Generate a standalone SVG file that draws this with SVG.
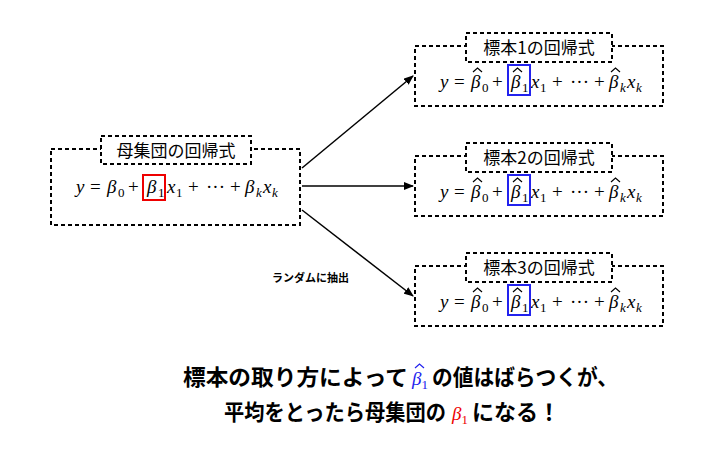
<svg xmlns="http://www.w3.org/2000/svg" width="713" height="453" viewBox="0 0 713 453">
<style>
.box{fill:#fff;stroke:#000;stroke-width:2;stroke-dasharray:4 3}
.lab{font-family:"Noto Sans CJK JP",sans-serif;font-size:17px}
.eq{font-family:"Liberation Serif",serif;font-size:19px;font-style:italic}
.rm{font-style:normal}
.sub{font-size:13px;font-style:normal}
.ksub{font-size:13px}
.big{font-family:"Noto Sans CJK JP",sans-serif;font-size:22px;font-weight:bold}
.hat{fill:none;stroke-width:1.2}
line{stroke:#000;stroke-width:1.5}
</style>
<defs>
<marker id="ah" markerWidth="10" markerHeight="8" refX="9" refY="4" orient="auto" markerUnits="userSpaceOnUse"><path d="M0,0 L10,4 L0,8 z"/></marker>
<g id="eqS">
<text class="eq" y="0"><tspan x="0">y</tspan><tspan x="14" class="rm">=</tspan><tspan x="31">β</tspan><tspan x="42" dy="4" class="sub">0</tspan><tspan x="52" dy="-4" class="rm">+</tspan><tspan x="71">β</tspan><tspan x="82" dy="4" class="sub">1</tspan><tspan x="91" dy="-4">x</tspan><tspan x="100" dy="4" class="sub">1</tspan><tspan x="112" dy="-4" class="rm">+</tspan><tspan x="130" class="rm">···</tspan><tspan x="154" class="rm">+</tspan><tspan x="169">β</tspan><tspan x="180" dy="4" class="ksub">k</tspan><tspan x="187" dy="-4">x</tspan><tspan x="196" dy="4" class="ksub">k</tspan></text>
</g>
<path id="hats" class="hat" stroke="#000" d="M33,-16 L37.5,-20 L42,-16 M73,-16 L77.5,-20 L82,-16 M171,-16 L175.5,-20 L180,-16"/>
</defs>
<g id="connectors">
<line x1="302" y1="168" x2="413" y2="76" marker-end="url(#ah)"/>
<line x1="302" y1="186" x2="413" y2="186" marker-end="url(#ah)"/>
<line x1="302" y1="210" x2="413" y2="296" marker-end="url(#ah)"/>
<text x="272" y="282" style="font-family:'Noto Sans CJK JP',sans-serif;font-size:11px;font-weight:bold">ランダムに抽出</text>
</g>
<g id="population">
<rect class="box" x="51" y="149" width="249" height="76"/>
<rect class="box" x="101" y="136" width="150" height="28"/>
<text class="lab" x="176" y="157" text-anchor="middle">母集団の回帰式</text>
<use href="#eqS" x="76" y="193"/>
<rect x="143" y="175" width="22" height="25" fill="none" stroke="#e00" stroke-width="2"/>
</g>
<g id="sample1">
<rect class="box" x="415" y="46" width="248" height="60"/>
<rect class="box" x="466" y="33" width="146" height="29"/>
<text class="lab" x="539" y="54" text-anchor="middle">標本1の回帰式</text>
<use href="#eqS" x="440" y="88"/>
<use href="#hats" x="440" y="88"/>
<rect x="508" y="65" width="22" height="30" fill="none" stroke="#22e" stroke-width="2"/>
</g>
<g id="sample2">
<rect class="box" x="415" y="156" width="248" height="60"/>
<rect class="box" x="466" y="143" width="146" height="29"/>
<text class="lab" x="539" y="164" text-anchor="middle">標本2の回帰式</text>
<use href="#eqS" x="440" y="198"/>
<use href="#hats" x="440" y="198"/>
<rect x="508" y="175" width="22" height="30" fill="none" stroke="#22e" stroke-width="2"/>
</g>
<g id="sample3">
<rect class="box" x="415" y="266" width="248" height="60"/>
<rect class="box" x="466" y="253" width="146" height="29"/>
<text class="lab" x="539" y="274" text-anchor="middle">標本3の回帰式</text>
<use href="#eqS" x="440" y="308"/>
<use href="#hats" x="440" y="308"/>
<rect x="508" y="285" width="22" height="30" fill="none" stroke="#22e" stroke-width="2"/>
</g>
<g id="caption">
<text class="big" x="183" y="385" textLength="225" lengthAdjust="spacingAndGlyphs">標本の取り方によって</text>
<text class="eq" x="412" y="385" fill="#22e" font-size="21">β<tspan class="sub" dy="4">1</tspan></text>
<path class="hat" stroke="#22e" d="M415,368 L419.5,364 L424,368"/>
<text class="big" x="432" y="385" textLength="186" lengthAdjust="spacingAndGlyphs">の値はばらつくが、</text>
<text class="big" x="224" y="420" textLength="222" lengthAdjust="spacingAndGlyphs">平均をとったら母集団の</text>
<text class="eq" x="452" y="420" fill="#e00" font-size="21">β<tspan class="sub" dy="4">1</tspan></text>
<text class="big" x="472" y="420">になる！</text>
</g>
</svg>
